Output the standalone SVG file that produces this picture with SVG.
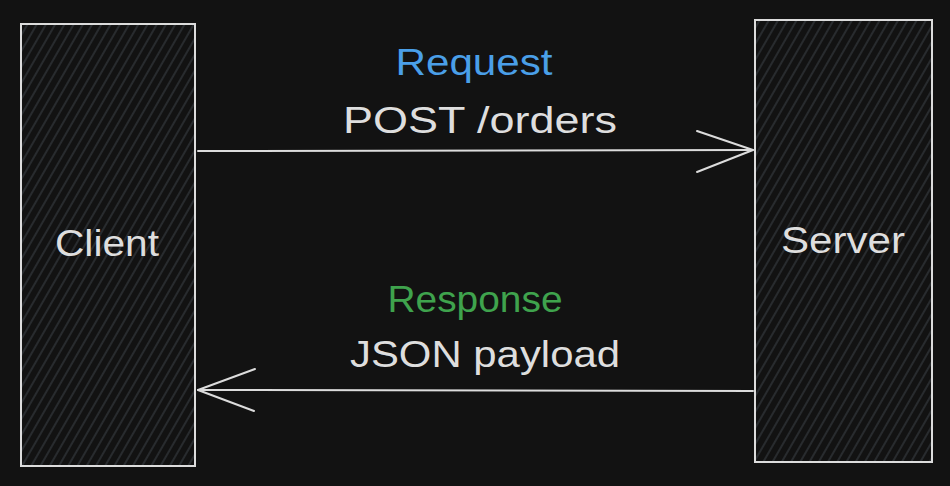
<svg xmlns="http://www.w3.org/2000/svg" width="950" height="486" viewBox="0 0 950 486">
  <style>
    .box { stroke: #dcdcdc; stroke-width: 2; fill: url(#hatch); }
    .edge { stroke: #dcdcdc; stroke-width: 2; fill: none; stroke-linecap: round; stroke-linejoin: round; }
    .lbl { font-family: "Liberation Sans", "DejaVu Sans", sans-serif; font-size: 36px; fill: #dedede; text-anchor: middle; }
    .req { fill: #4a9fe8; }
    .resp { fill: #3fa34d; }
  </style>
  <defs>
    <pattern id="hatch" patternUnits="userSpaceOnUse" width="8" height="8" patternTransform="rotate(30)">
      <rect width="8" height="8" fill="#121212"/>
      <line x1="4" y1="0" x2="4" y2="8" stroke="#3e444a" stroke-width="1"/>
    </pattern>
  </defs>
  <rect width="950" height="486" fill="#121212"/>

  <g id="client">
    <rect class="box" x="21" y="24" width="174" height="442"/>
    <text class="lbl" x="107" y="256" textLength="104" lengthAdjust="spacingAndGlyphs">Client</text>
  </g>

  <g id="server">
    <rect class="box" x="755" y="20" width="177" height="442"/>
    <text class="lbl" x="843" y="253" textLength="124" lengthAdjust="spacingAndGlyphs">Server</text>
  </g>

  <g id="connectors">
    <g id="request">
      <path class="edge" d="M198 151 L753 150"/>
      <path class="edge" d="M697 131 L753 150 L697 172"/>
      <text class="lbl req" x="474" y="75" textLength="157" lengthAdjust="spacingAndGlyphs">Request</text>
      <text class="lbl" x="480" y="133" textLength="274" lengthAdjust="spacingAndGlyphs">POST /orders</text>
    </g>
    <g id="response">
      <path class="edge" d="M753 391 L198 390"/>
      <path class="edge" d="M255 369 L198 390 L254 411"/>
      <text class="lbl resp" x="475" y="312" textLength="175" lengthAdjust="spacingAndGlyphs">Response</text>
      <text class="lbl" x="485" y="367" textLength="270" lengthAdjust="spacingAndGlyphs">JSON payload</text>
    </g>
  </g>
</svg>
